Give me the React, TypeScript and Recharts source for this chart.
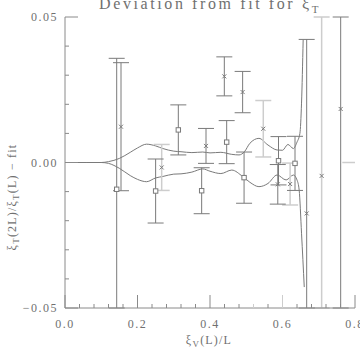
import React from "react";
import {
  ComposedChart,
  Line,
  Scatter,
  ErrorBar,
  XAxis,
  YAxis,
  ReferenceLine,
  Customized,
} from "recharts";

// ---- data ----
const upperFit = [
  { x: 0, y: 0 }, { x: 0.06, y: 0 }, { x: 0.1, y: 0 }, { x: 0.12, y: 0.0003 },
  { x: 0.15, y: 0.0014 }, { x: 0.18, y: 0.0035 }, { x: 0.2, y: 0.005 },
  { x: 0.225, y: 0.0063 }, { x: 0.25, y: 0.0057 }, { x: 0.27, y: 0.0048 },
  { x: 0.3, y: 0.0039 }, { x: 0.32, y: 0.0037 }, { x: 0.35, y: 0.0034 },
  { x: 0.38, y: 0.0036 }, { x: 0.4, y: 0.0033 }, { x: 0.43, y: 0.0035 },
  { x: 0.46, y: 0.0028 }, { x: 0.48, y: 0.0026 }, { x: 0.495, y: 0.0037 },
  { x: 0.51, y: 0.0066 }, { x: 0.535, y: 0.0083 }, { x: 0.56, y: 0.006 },
  { x: 0.585, y: 0.0043 }, { x: 0.6, y: 0.0042 }, { x: 0.615, y: 0.0062 },
  { x: 0.63, y: 0.0048 }, { x: 0.64, y: 0.007 }, { x: 0.648, y: 0.01 },
  { x: 0.6525, y: 0.0204 }, { x: 0.657, y: 0.0422 },
];
const lowerFit = [
  { x: 0, y: 0 }, { x: 0.06, y: 0 }, { x: 0.1, y: 0 }, { x: 0.12, y: -0.0003 },
  { x: 0.15, y: -0.002 }, { x: 0.18, y: -0.0045 }, { x: 0.2, y: -0.0058 },
  { x: 0.225, y: -0.0066 }, { x: 0.25, y: -0.0053 }, { x: 0.27, y: -0.0048 },
  { x: 0.3, y: -0.004 }, { x: 0.32, y: -0.0039 }, { x: 0.35, y: -0.0033 },
  { x: 0.38, y: -0.0022 }, { x: 0.4, y: -0.003 }, { x: 0.43, y: -0.0038 },
  { x: 0.46, y: -0.0026 }, { x: 0.49, y: -0.0048 }, { x: 0.51, y: -0.0068 },
  { x: 0.535, y: -0.0083 }, { x: 0.56, y: -0.0072 }, { x: 0.585, y: -0.0043 },
  { x: 0.61, y: -0.006 }, { x: 0.63, y: -0.0043 }, { x: 0.64, y: -0.006 },
  { x: 0.646, y: -0.0095 }, { x: 0.6525, y: -0.0243 }, { x: 0.66, y: -0.0428 },
];
const darkCrosses = [
  { x: 0.1545, y: 0.0123, e: 0.022 },
  { x: 0.389, y: 0.0057, e: 0.006 },
  { x: 0.4395, y: 0.0296, e: 0.0067 },
  { x: 0.49, y: 0.0242, e: 0.0071 },
  { x: 0.587, y: -0.0075, e: 0.0068 },
  { x: 0.6667, y: -0.0175, e: 0.0598 },
  { x: 0.7605, y: 0.0184, e: 0.09 },
];
const lightCrosses = [
  { x: 0.2667, y: -0.0017, e: 0.0079 },
  { x: 0.547, y: 0.0116, e: 0.0097 },
  { x: 0.621, y: -0.0074, e: 0.0072 },
  { x: 0.708, y: -0.0046, e: 0.08 },
];
const darkSquares = [
  { x: 0.1426, y: -0.0092, e: 0.045 },
  { x: 0.25, y: -0.0098, e: 0.011 },
  { x: 0.3126, y: 0.0112, e: 0.0086 },
  { x: 0.377, y: -0.0097, e: 0.0079 },
  { x: 0.446, y: 0.007, e: 0.0074 },
  { x: 0.494, y: -0.0052, e: 0.0088 },
  { x: 0.589, y: 0.0006, e: 0.0083 },
  { x: 0.6345, y: -0.0003, e: 0.0093 },
];
const xTicks = [
  0, 0.04, 0.08, 0.12, 0.16, 0.2, 0.24, 0.28, 0.32, 0.36, 0.4, 0.44, 0.48,
  0.52, 0.56, 0.6, 0.64, 0.68, 0.72, 0.76, 0.8,
];
const yTicks = [
  -0.05, -0.04, -0.03, -0.02, -0.01, 0, 0.01, 0.02, 0.03, 0.04, 0.05,
];
const xMajorLabels = ["0.0", "0.2", "0.4", "0.6", "0.8"];
const yMajorLabels = ["\u22120.05", "0.00", "0.05"];
const lightTickValues = [0.52, 0.6];
const Y_MIN = -0.05;
const Y_MAX = 0.05;

// error bars are cut at the frame, as in the plot
const clampErr = (rows: { x: number; y: number; e: number }[]) =>
  rows.map((d) => ({
    ...d,
    err: [Math.min(d.e, d.y - Y_MIN), Math.min(d.e, Y_MAX - d.y)],
  }));

// ---- styles ----
const FRAME = "#8a8a8a";
const DARK = "#7a7a7a";
const LIGHT = "#cdcdcd";
const TEXT = "#707070";
const FONT = "'Liberation Serif', 'DejaVu Serif', serif";

const isMajorX = (v: number) => Math.abs(v / 0.2 - Math.round(v / 0.2)) < 1e-6;
const isMajorY = (v: number) => Math.abs(v / 0.05 - Math.round(v / 0.05)) < 1e-6;
const tickColor = (v: number) =>
  lightTickValues.some((t) => Math.abs(t - v) < 1e-6) ? LIGHT : FRAME;

const BottomTick = (p: any) => {
  const { x, y, payload } = p;
  const v = payload.value as number;
  const major = isMajorX(v);
  const idx = Math.round(v / 0.2);
  return (
    <g>
      <line x1={x} x2={x} y1={y} y2={y - (major ? 13 : 4)} stroke={tickColor(v)} />
      {major && (
        <text x={x} y={y + 20} textAnchor="middle" fill={TEXT} stroke="none" fontSize={12}
          fontFamily={FONT} letterSpacing={1.5}>
          {xMajorLabels[idx]}
        </text>
      )}
    </g>
  );
};
const TopTick = (p: any) => {
  const { x, y, payload } = p;
  const v = payload.value as number;
  const major = isMajorX(v);
  return <line x1={x} x2={x} y1={y} y2={y + (major ? 13 : 4)} stroke={tickColor(v)} />;
};
const LeftTick = (p: any) => {
  const { x, y, payload } = p;
  const v = payload.value as number;
  const major = isMajorY(v);
  const idx = Math.round(v / 0.05) + 1;
  return (
    <g>
      <line x1={x} x2={x + (major ? 13 : 4)} y1={y} y2={y} stroke={FRAME} />
      {major && (
        <text x={x - 7} y={y + 4} textAnchor="end" fill={TEXT} stroke="none" fontSize={12}
          fontFamily={FONT} letterSpacing={1.5}>
          {yMajorLabels[idx]}
        </text>
      )}
    </g>
  );
};
const RightTick = (p: any) => {
  const { x, y, payload } = p;
  const v = payload.value as number;
  const major = isMajorY(v);
  return <line x1={x} x2={x - (major ? 13 : 4)} y1={y} y2={y} stroke={FRAME} />;
};

const CrossShape = (color: string) => (p: any) => {
  const { cx, cy } = p;
  if (cx == null || cy == null) return <g />;
  const s = 2;
  return (
    <g stroke={color} strokeWidth={1}>
      <line x1={cx - s} y1={cy - s} x2={cx + s} y2={cy + s} />
      <line x1={cx - s} y1={cy + s} x2={cx + s} y2={cy - s} />
    </g>
  );
};
const SquareShape = (color: string) => (p: any) => {
  const { cx, cy } = p;
  if (cx == null || cy == null) return <g />;
  const s = 2.2;
  return <rect x={cx - s} y={cy - s} width={2 * s} height={2 * s} fill="#fff" stroke={color} />;
};

const Texts = () => (
  <g fontFamily={FONT} fill={TEXT} stroke="none">
    <text x={210} y={9} textAnchor="middle" fontSize={16} letterSpacing={2.6} fill={TEXT}>
      Deviation from fit for ξ
      <tspan fontSize={11} dy={4}>T</tspan>
    </text>
    <text x={209} y={344} textAnchor="middle" fontSize={12} letterSpacing={1.2} fill={TEXT}>
      ξ<tspan fontSize={9} dy={3}>V</tspan>
      <tspan dy={-3}>(L)/L</tspan>
    </text>
    <text transform="rotate(-90 16 197)" x={16} y={197} textAnchor="middle"
      fontSize={12} letterSpacing={1.2} fill={TEXT}>
      ξ<tspan fontSize={9} dy={3}>T</tspan>
      <tspan dy={-3}>(2L)/ξ</tspan>
      <tspan fontSize={9} dy={3}>T</tspan>
      <tspan dy={-3}>(L) − fit</tspan>
    </text>
  </g>
);

export default function App() {
  return (
    <div style={{ position: "absolute", left: 0, top: 0, width: 360, height: 360, background: "#fff" }}>
      <ComposedChart width={360} height={360} margin={{ top: 17, right: 5, bottom: 0, left: 0 }}>
        <XAxis dataKey="x" type="number" domain={[0, 0.8]} allowDataOverflow ticks={xTicks}
          interval={0} tickSize={0} tickMargin={0} height={52} tick={<BottomTick />}
          tickLine={false} axisLine={{ stroke: FRAME }} />
        <XAxis xAxisId="top" orientation="top" dataKey="x" type="number" domain={[0, 0.8]}
          allowDataOverflow ticks={xTicks} interval={0} tickSize={0} tickMargin={0} height={0}
          tick={<TopTick />} tickLine={false} axisLine={{ stroke: FRAME }} />
        <YAxis dataKey="y" type="number" domain={[Y_MIN, Y_MAX]} allowDataOverflow ticks={yTicks}
          interval={0} tickSize={0} tickMargin={0} width={65} tick={<LeftTick />}
          tickLine={false} axisLine={{ stroke: FRAME }} />
        <YAxis yAxisId="right" orientation="right" dataKey="y" type="number" domain={[Y_MIN, Y_MAX]}
          allowDataOverflow ticks={yTicks} interval={0} tickSize={0} tickMargin={0} width={0}
          tick={<RightTick />} tickLine={false} axisLine={{ stroke: FRAME }} />

        <ReferenceLine segment={[{ x: 0.765, y: 0 }, { x: 0.8, y: 0 }]} stroke={LIGHT} strokeWidth={1.5} />

        <Line data={upperFit} dataKey="y" type="monotone" stroke={DARK} strokeWidth={1}
          dot={false} isAnimationActive={false} />
        <Line data={lowerFit} dataKey="y" type="monotone" stroke={DARK} strokeWidth={1}
          dot={false} isAnimationActive={false} />

        <Scatter data={clampErr(lightCrosses)} dataKey="y" shape={CrossShape(DARK)} isAnimationActive={false}>
          <ErrorBar dataKey="err" direction="y" width={8} stroke={LIGHT} strokeWidth={1.5} />
        </Scatter>
        <Scatter data={clampErr(darkSquares)} dataKey="y" shape={SquareShape(DARK)} isAnimationActive={false}>
          <ErrorBar dataKey="err" direction="y" width={8} stroke={DARK} strokeWidth={1} />
        </Scatter>
        <Scatter data={clampErr(darkCrosses)} dataKey="y" shape={CrossShape(DARK)} isAnimationActive={false}>
          <ErrorBar dataKey="err" direction="y" width={8} stroke={DARK} strokeWidth={1} />
        </Scatter>

        <Customized component={Texts} />
      </ComposedChart>
    </div>
  );
}
